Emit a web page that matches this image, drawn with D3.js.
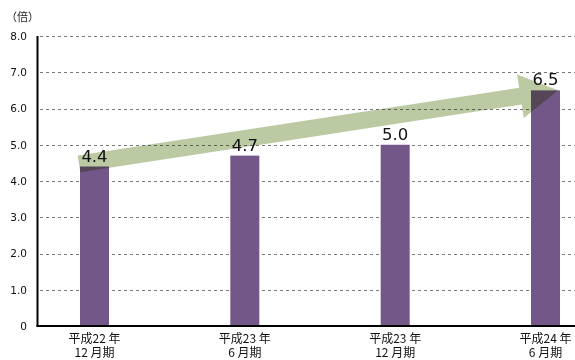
<!DOCTYPE html>
<html>
<head>
<meta charset="utf-8">
<script src="https://cdn.jsdelivr.net/npm/d3@7"></script>
<style>
  body { margin: 0; background: #fff; }
  svg { display: block; font-family: "Noto Sans CJK JP", "DejaVu Sans", sans-serif; }
</style>
</head>
<body>
<div id="chart"></div>
<script>
// data
const periodYears  = ["平成22 年", "平成23 年", "平成23 年", "平成24 年"];
const periodMonths = ["12 月期", "6 月期", "12 月期", "6 月期"];
const ratios  = [4.4, 4.7, 5.0, 6.5];
const yTicks  = [0, 1, 2, 3, 4, 5, 6, 7, 8];
const unitLabel = "（倍）";

const W = 575, H = 360;
const svg = d3.select("#chart").append("svg").attr("width", W).attr("height", H);

const x = d3.scalePoint().domain(d3.range(ratios.length)).range([94.5, 545.5]);
const y = d3.scaleLinear().domain([0, 8]).range([326, 36]);
const barW = 29;

// gridlines
svg.append("g")
   .selectAll("line")
   .data(yTicks.filter(d => d > 0))
   .join("line")
     .attr("x1", 40).attr("x2", W)
     .attr("y1", d => Math.round(y(d)) + 0.5).attr("y2", d => Math.round(y(d)) + 0.5)
     .attr("stroke", "#7a7a7a")
     .attr("stroke-dasharray", "3 3");

// y tick labels
const yAxisG = svg.append("g").attr("transform", "translate(38,0)")
   .call(d3.axisLeft(y).tickValues(yTicks).tickSize(0).tickPadding(11)
          .tickFormat(d => d === 0 ? "0" : d.toFixed(1)));
yAxisG.select(".domain").remove();
yAxisG.selectAll("text")
   .attr("font-family", "'DejaVu Sans', sans-serif")
   .attr("font-size", 10.5)
   .attr("fill", "#111");

svg.append("text")
   .attr("x", 6).attr("y", 21)
   .attr("font-size", 11)
   .attr("fill", "#222")
   .text(unitLabel);

// bars
svg.append("g")
   .selectAll("rect")
   .data(ratios)
   .join("rect")
     .attr("x", (d, i) => x(i) - barW / 2)
     .attr("y", d => y(d))
     .attr("width", barW)
     .attr("height", d => y(0) - y(d))
     .attr("fill", "#725788");

// growth arrow (multiply blend so it darkens the bars it crosses)
const start = [x(0) - barW / 2 - 1, y(4.47)];
const tip   = [x(3) + barW / 2 - 2, y(6.5)];
const dx = tip[0] - start[0], dy = tip[1] - start[1];
const L = Math.hypot(dx, dy);
const ang = Math.atan2(dy, dx) * 180 / Math.PI;
const shaft = 8.5, head = 22, headLen = 38;
svg.append("polygon")
   .attr("transform", `translate(${start[0]},${start[1]}) rotate(${ang})`)
   .attr("points", [[0, -shaft], [L - headLen, -shaft], [L - headLen, -head], [L, 0],
                    [L - headLen, head], [L - headLen, shaft], [0, shaft]].map(p => p.join(",")).join(" "))
   .attr("fill", "#bccaa3")
   .style("mix-blend-mode", "multiply");

// axes lines
svg.append("line")
   .attr("x1", 37.5).attr("x2", 37.5).attr("y1", 36).attr("y2", 327)
   .attr("stroke", "#000").attr("stroke-width", 2);
svg.append("line")
   .attr("x1", 36.5).attr("x2", W).attr("y1", 326).attr("y2", 326)
   .attr("stroke", "#000").attr("stroke-width", 2);

// value labels
svg.append("g")
   .selectAll("text")
   .data(ratios)
   .join("text")
     .attr("x", (d, i) => x(i))
     .attr("y", d => y(d) - 5)
     .attr("text-anchor", "middle")
     .attr("font-family", "'DejaVu Sans', sans-serif")
     .attr("font-size", 16.5)
     .attr("fill", "#111")
     .text(d => d.toFixed(1));

// category labels, two lines each
[[periodYears, 343], [periodMonths, 357]].forEach(([rows, yy]) => {
  svg.append("g")
     .selectAll("text")
     .data(rows)
     .join("text")
       .attr("x", (d, i) => x(i))
       .attr("y", yy)
       .attr("text-anchor", "middle")
       .attr("font-size", 12)
       .attr("fill", "#111")
       .text(d => d);
});
</script>
</body>
</html>
